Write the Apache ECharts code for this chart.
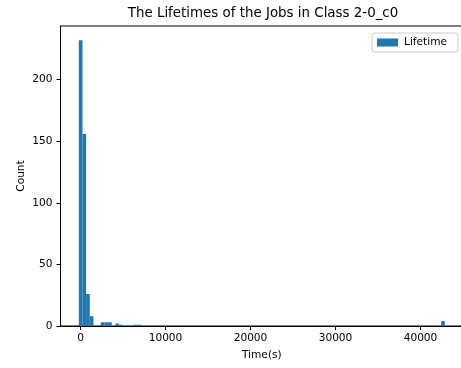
<!DOCTYPE html>
<html>
<head>
<meta charset="utf-8">
<script src="https://cdn.jsdelivr.net/npm/echarts@6/dist/echarts.min.js"></script>
<style>
  html, body { margin: 0; padding: 0; background: #fff; }
  #chart { width: 461px; height: 368px; }
</style>
</head>
<body>
<div id="chart"></div>
<script>
// Histogram of job lifetimes: 100 equal-width bins, only non-empty bins listed
const binStart = -200;
const binWidth = 430.6;
const binIndex = [0, 1, 2, 3, 6, 7, 8, 10, 11, 15, 16, 99];
const binCount = [232, 156, 26, 8, 3, 3, 3, 2, 1, 1, 1, 4];

const xTicks = [0, 10000, 20000, 30000, 40000];
const yTicks = [0, 50, 100, 150, 200];

const xMin = -2353, xMax = 45013;
const yMin = 0, yMax = 243.6;

const bins = binIndex.map((b, k) => [binStart + b * binWidth, binStart + (b + 1) * binWidth, binCount[k]]);

const font = 'DejaVu Sans';
const black = '#000';
const labelSize = 10.6;

const chart = echarts.init(document.getElementById('chart'), null, { renderer: 'canvas' });

const axisCommon = {
  axisLine: { show: true, onZero: false, lineStyle: { color: black, width: 1 } },
  axisTick: { show: true, inside: false, length: 4, lineStyle: { color: black, width: 1 } },
  splitLine: { show: false },
  nameMoveOverlap: false,
  nameTextStyle: { color: black, fontFamily: font, fontSize: labelSize }
};
const labelStyle = {
  color: black, fontFamily: font, fontSize: labelSize,
  formatter: v => String(v)
};

chart.setOption({
  animation: false,
  backgroundColor: '#fff',
  title: {
    text: 'The Lifetimes of the Jobs in Class 2-0_c0',
    left: 263,
    textAlign: 'center',
    top: 7,
    padding: 0,
    textStyle: { color: black, fontFamily: font, fontSize: 13.4, fontWeight: 'normal' }
  },
  legend: {
    data: [{ name: 'Lifetime', icon: 'rect' }],
    left: 372,
    top: 33,
    padding: [4, 11, 4, 5],
    itemWidth: 21,
    itemHeight: 8,
    itemGap: 6,
    borderColor: '#cccccc',
    borderWidth: 1,
    borderRadius: 3,
    backgroundColor: 'rgba(255,255,255,0.8)',
    textStyle: { color: black, fontFamily: font, fontSize: labelSize, padding: [0, 0, 0, 1] }
  },
  grid: {
    left: 60.5,
    top: 26,
    width: (xMax - xMin) * 0.0085,
    height: 300,
    outerBoundsMode: 'none',
    containLabel: false,
    show: true,
    borderColor: black,
    borderWidth: 1,
    backgroundColor: 'transparent'
  },
  xAxis: Object.assign({}, axisCommon, {
    type: 'value',
    min: xMin,
    max: xMax,
    name: 'Time(s)',
    nameLocation: 'middle',
    nameGap: 24,
    axisTick: Object.assign({}, axisCommon.axisTick, { customValues: xTicks }),
    axisLabel: Object.assign({}, labelStyle, { customValues: xTicks, margin: 7 })
  }),
  yAxis: Object.assign({}, axisCommon, {
    type: 'value',
    min: yMin,
    max: yMax,
    name: 'Count',
    nameLocation: 'middle',
    nameGap: 34,
    axisTick: Object.assign({}, axisCommon.axisTick, { customValues: yTicks }),
    axisLabel: Object.assign({}, labelStyle, { customValues: yTicks, margin: 8 })
  }),
  series: [{
    type: 'custom',
    name: 'Lifetime',
    color: '#1f77b4',
    itemStyle: { color: '#1f77b4' },
    encode: { x: [0, 1], y: 2 },
    data: bins,
    renderItem: function (params, api) {
      const topLeft = api.coord([api.value(0), api.value(2)]);
      const bottomRight = api.coord([api.value(1), 0]);
      return {
        type: 'rect',
        shape: {
          x: topLeft[0],
          y: topLeft[1],
          width: bottomRight[0] - topLeft[0],
          height: bottomRight[1] - topLeft[1]
        },
        style: { fill: '#1f77b4' }
      };
    }
  }]
});
</script>
</body>
</html>
